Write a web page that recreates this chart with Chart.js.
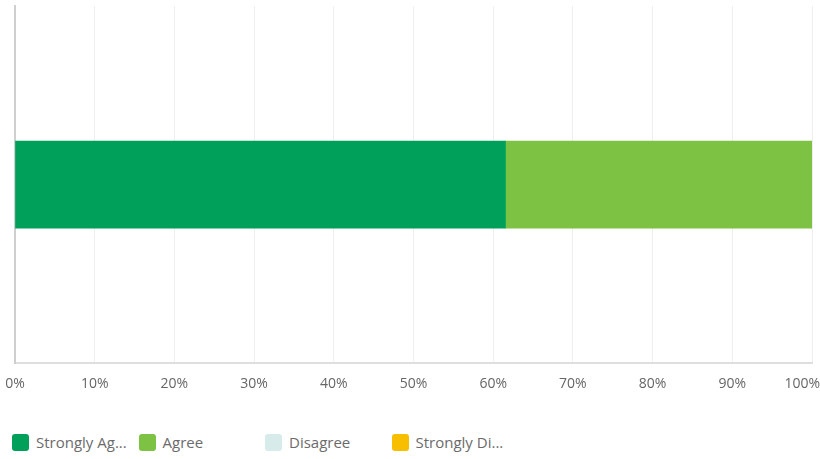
<!DOCTYPE html>
<html>
<head>
<meta charset="utf-8">
<script src="https://cdn.jsdelivr.net/npm/chart.js@4/dist/chart.umd.min.js"></script>
<style>
  html, body { margin: 0; padding: 0; background: #fff; }
  #wrap { position: relative; width: 820px; height: 414px; }
  #legend { display: flex; margin: 18px 0 0 12px; font: 15px "Open Sans", sans-serif; color: #6b6b6b; }
  #legend .item { width: 126.5px; display: flex; align-items: center; white-space: nowrap; }
  #legend .sw { width: 17px; height: 17px; border-radius: 3px; margin-right: 7px; flex: none; }
</style>
</head>
<body>
<div id="wrap"><canvas id="chart"></canvas></div>
<div id="legend"></div>
<script>
const categories = [''];
const seriesNames = ['Strongly Agree', 'Agree', 'Disagree', 'Strongly Disagree'];
const legendLabels = ['Strongly Ag...', 'Agree', 'Disagree', 'Strongly Di...'];
const seriesColors = ['#00a05b', '#7dc243', '#d7ebea', '#f8be00'];
const stronglyAgree = [61.54];
const agree = [38.46];
const disagree = [0];
const stronglyDisagree = [0];
const xTicks = [0, 10, 20, 30, 40, 50, 60, 70, 80, 90, 100];

const series = [stronglyAgree, agree, disagree, stronglyDisagree];

const datasets = series.map((data, i) => ({
  label: seriesNames[i],
  data,
  backgroundColor: seriesColors[i],
  borderWidth: 0,
  barThickness: 87
}));

// keep the last x tick label inside the canvas (right-aligned to the edge)
const clampLastTick = {
  id: 'clampLastTick',
  beforeDraw(chart) {
    const x = chart.scales.x;
    const items = x.getLabelItems(chart.chartArea);
    const last = items[items.length - 1];
    if (!last) return;
    const ctx = chart.ctx;
    ctx.save();
    ctx.font = last.font.string;
    const w = ctx.measureText(last.label).width;
    ctx.restore();
    if (last.options.translation[0] + w / 2 > chart.width) {
      last.options.textAlign = 'right';
      last.options.translation[0] = chart.width;
    }
  }
};

new Chart(document.getElementById('chart'), {
  type: 'bar',
  data: { labels: categories, datasets },
  plugins: [clampLastTick],
  options: {
    indexAxis: 'y',
    responsive: true,
    maintainAspectRatio: false,
    animation: false,
    layout: { padding: { left: 15, right: 8, top: 6, bottom: 10 } },
    plugins: { legend: { display: false }, tooltip: { enabled: false } },
    scales: {
      x: {
        stacked: true,
        min: 0,
        max: 100,
        afterBuildTicks: (scale) => { scale.ticks = xTicks.map(v => ({ value: v })); },
        afterFit: (scale) => { scale.paddingLeft = 0; scale.paddingRight = 0; },
        grid: { color: '#efefef', lineWidth: 1, drawTicks: false },
        border: { display: true, color: '#dedede', width: 2 },
        ticks: {
          padding: 12,
          color: '#666666',
          font: { family: 'Open Sans', size: 14 },
          maxRotation: 0,
          autoSkip: false,
          callback: (v) => v + '%'
        }
      },
      y: {
        stacked: true,
        grid: { display: false, drawTicks: false },
        border: { display: true, color: '#cfcfcf', width: 2 },
        ticks: { display: false },
        afterFit: (scale) => { scale.width = 0; }
      }
    }
  }
});

// legend row with fixed-width items
const legend = document.getElementById('legend');
legendLabels.forEach((name, i) => {
  const item = document.createElement('div');
  item.className = 'item';
  item.innerHTML = `<span class="sw" style="background:${seriesColors[i]}"></span><span>${name}</span>`;
  legend.appendChild(item);
});
</script>
</body>
</html>
